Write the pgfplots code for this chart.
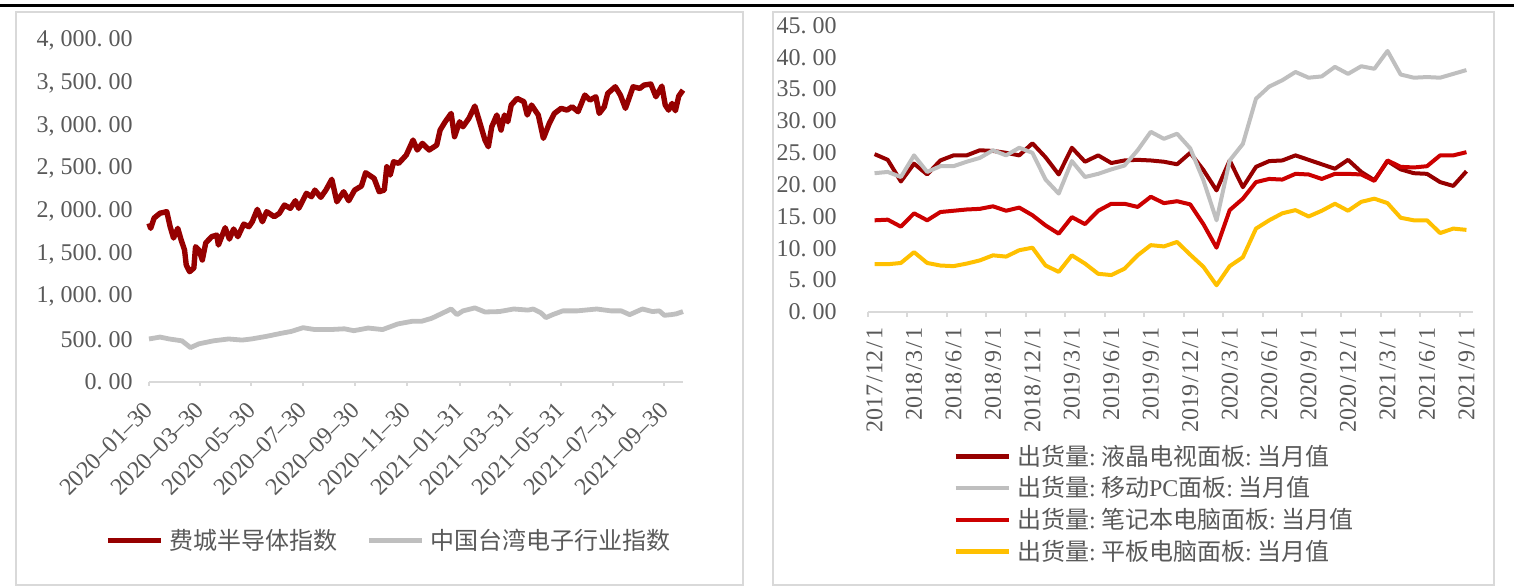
\documentclass[border=0pt]{standalone}
\usepackage{pgfplots}
\usepackage{pgfplotstable}
\pgfplotsset{compat=1.18}
\usepackage{fontspec}
\setmainfont{Liberation Serif}
\newfontfamily\cjk{Noto Sans CJK SC}
\definecolor{sox}{RGB}{150,0,0}
\definecolor{twn}{RGB}{191,191,191}
\definecolor{lcd}{RGB}{150,0,0}
\definecolor{npc}{RGB}{204,0,0}
\definecolor{tabc}{RGB}{255,192,0}
\definecolor{txt}{RGB}{89,89,89}
\definecolor{axl}{RGB}{217,217,217}
\newcommand\pd{\makebox[0.5em][l]{.}}
\newcommand\pc{\makebox[0.5em][l]{,}}
\newcommand\cl{\makebox[0.5em][l]{\rmfamily :}}
\newcommand\sla{\makebox[0.45em]{/}}

\pgfplotstableread{
d v
0 1858
2 1800
6 1920
13 1977
21 1995
25 1819
29 1686
34 1800
38 1663
42 1546
44 1370
48 1292
53 1335
55 1585
59 1546
63 1429
67 1628
74 1702
80 1721
82 1604
90 1807
95 1674
100 1792
105 1702
112 1850
118 1819
122 1877
128 2022
134 1877
139 1995
148 1936
154 1975
160 2073
167 2034
173 2123
177 2034
186 2210
192 2170
196 2248
203 2163
209 2248
216 2374
222 2111
230 2229
236 2123
243 2248
251 2295
256 2451
266 2385
272 2229
278 2248
281 2521
285 2424
289 2580
295 2561
304 2658
312 2834
317 2717
323 2795
331 2717
340 2775
344 2951
350 3048
357 3146
361 2873
367 3048
371 2990
378 3088
385 3232
390 3068
397 2834
401 2755
405 2990
411 3127
416 2951
420 3127
424 3048
428 3244
435 3322
443 3283
447 3127
452 3244
460 3127
466 2854
473 3029
479 3146
487 3205
494 3185
500 3224
507 3166
515 3361
521 3302
528 3341
532 3146
538 3224
542 3380
551 3458
557 3361
563 3205
572 3458
580 3439
585 3478
593 3490
599 3341
606 3466
610 3244
614 3185
618 3263
622 3177
626 3349
631 3419
}\soxdata

\pgfplotstableread{
d v
0 504
13 526
24 504
39 482
49 403
59 447
76 482
94 504
110 491
121 504
139 535
156 570
168 592
182 636
196 614
214 614
231 623
242 601
259 632
276 614
294 680
311 711
322 711
334 746
345 798
357 855
364 789
371 833
385 868
397 820
414 825
431 855
448 842
454 855
463 811
469 754
477 789
489 833
506 833
529 855
546 833
558 833
568 789
583 855
595 825
603 833
609 781
617 789
623 798
631 825
}\twndata

\pgfplotstableread{
i lcd pc nb tb
0 24.8 21.8 14.4 7.5
1 23.9 22.0 14.5 7.5
2 20.5 21.2 13.4 7.7
3 23.3 24.6 15.5 9.4
4 21.6 22.0 14.4 7.7
5 23.8 22.9 15.7 7.3
6 24.6 22.9 15.9 7.2
7 24.6 23.6 16.1 7.6
8 25.4 24.2 16.2 8.1
9 25.3 25.4 16.6 8.9
10 25.0 24.6 15.9 8.7
11 24.6 25.8 16.4 9.7
12 26.5 25.0 15.2 10.1
13 24.3 20.8 13.6 7.3
14 21.6 18.6 12.3 6.3
15 25.8 23.7 14.9 8.9
16 23.6 21.2 13.8 7.6
17 24.6 21.7 15.9 6.0
18 23.4 22.4 17.0 5.8
19 23.8 23.0 17.0 6.8
20 23.9 25.4 16.5 8.9
21 23.8 28.3 18.1 10.5
22 23.6 27.2 17.1 10.3
23 23.2 28.0 17.4 11.0
24 25.0 25.7 16.9 9.0
25 22.3 20.7 13.8 7.1
26 19.1 14.4 10.1 4.2
27 23.8 23.8 16.0 7.2
28 19.6 26.4 17.8 8.6
29 22.8 33.5 20.4 13.1
30 23.7 35.4 20.9 14.4
31 23.8 36.4 20.8 15.5
32 24.6 37.7 21.7 16.0
33 23.9 36.8 21.6 15.0
34 23.2 37.0 20.9 15.9
35 22.5 38.5 21.7 17.0
36 23.9 37.4 21.7 15.9
37 22.0 38.6 21.6 17.3
38 20.7 38.2 20.6 17.8
39 23.7 41.0 23.8 17.1
40 22.4 37.3 22.8 14.8
41 21.8 36.8 22.7 14.4
42 21.7 36.9 22.9 14.4
43 20.4 36.8 24.6 12.4
44 19.8 37.4 24.6 13.1
45 22.1 38.0 25.1 12.9
}\paneldata

\begin{document}
\begin{tikzpicture}
\path[use as bounding box] (0,0) rectangle (757pt,293.5pt);
\draw[black, line width=1.65pt] (0,290.65pt) -- (757pt,290.65pt);
\draw[axl, line width=1pt] (8pt,1pt) rectangle (371.5pt,287.5pt);
\draw[axl, line width=1pt] (386.5pt,1pt) rectangle (747pt,287.5pt);

\begin{axis}[
  at={(74.5pt,102.5pt)}, anchor=south west,
  scale only axis, width=267pt, height=170.75pt,
  xmin=0, xmax=631, ymin=0, ymax=4000,
  axis x line*=bottom, axis y line*=left,
  x axis line style={axl, line width=1pt, -},
  y axis line style={draw=none},
  xtick={0,60,121,182,244,305,367,426,487,548,609},
  xticklabels={2020--01--30,2020--03--30,2020--05--30,2020--07--30,2020--09--30,2020--11--30,2021--01--31,2021--03--31,2021--05--31,2021--07--31,2021--09--30},
  ytick={0,500,...,4000},
  yticklabels={0\pd00,500\pd00,1\pc000\pd00,1\pc500\pd00,2\pc000\pd00,2\pc500\pd00,3\pc000\pd00,3\pc500\pd00,4\pc000\pd00},
  tick align=outside, major tick length=2pt,
  xtick style={axl, line width=1pt},
  ytick style={draw=none},
  tick label style={font=\fontsize{12}{14}\selectfont, text=txt},
  xticklabel style={xshift=-3pt, yshift=-7pt, rotate=45, anchor=north east, inner sep=0pt},
  yticklabel style={anchor=east, inner sep=0pt, xshift=-6pt},
  clip=false,
  legend style={at={(0,0)}, anchor=west, xshift=-22pt, yshift=-79.5pt,
    draw=none, fill=none, inner sep=0pt, legend columns=2,
    font=\cjk\fontsize{12}{14}\selectfont, text=txt,
    nodes={inner xsep=3pt, inner ysep=0pt},
    /tikz/every even column/.append style={column sep=11.5pt}},
  legend image code/.code={\draw[line width=2.5pt] (0pt,0pt) -- (26.5pt,0pt);},
]
\addplot[sox, line width=2.7pt, line join=round] table[x=d,y=v]{\soxdata};
\addlegendentry{费城半导体指数}
\addplot[twn, line width=2.4pt, line join=round] table[x=d,y=v]{\twndata};
\addlegendentry{中国台湾电子行业指数}
\end{axis}

\begin{axis}[
  at={(434pt,137.5pt)}, anchor=south west,
  scale only axis, width=302.5pt, height=143.25pt,
  xmin=-0.5, xmax=45.5, ymin=0, ymax=45,
  axis x line*=bottom, axis y line*=left,
  x axis line style={axl, line width=1pt, -},
  y axis line style={draw=none},
  xtick={0,3,...,45},
  xticklabels={2017\sla12\sla1,2018\sla3\sla1,2018\sla6\sla1,2018\sla9\sla1,2018\sla12\sla1,2019\sla3\sla1,2019\sla6\sla1,2019\sla9\sla1,2019\sla12\sla1,2020\sla3\sla1,2020\sla6\sla1,2020\sla9\sla1,2020\sla12\sla1,2021\sla3\sla1,2021\sla6\sla1,2021\sla9\sla1},
  extra x ticks={-0.5,2.5,...,44.5},
  extra x tick labels={},
  extra x tick style={major tick length=2.5pt, tick style={axl, line width=1pt}},
  ytick={0,5,...,45},
  yticklabels={0\pd00,5\pd00,10\pd00,15\pd00,20\pd00,25\pd00,30\pd00,35\pd00,40\pd00,45\pd00},
  tick align=outside, major tick length=0pt,
  xtick style={axl, line width=1pt},
  ytick style={draw=none},
  tick label style={font=\fontsize{12}{14}\selectfont, text=txt},
  xticklabel style={yshift=-7.5pt, rotate=90, anchor=east, inner sep=0pt},
  yticklabel style={anchor=east, inner sep=0pt, xshift=-15.5pt},
  clip=false,
  legend style={at={(0,0)}, anchor=west, xshift=42.5pt, yshift=-96pt,
    draw=none, fill=none, inner sep=0pt, legend columns=1,
    font=\cjk\fontsize{12}{14}\selectfont, text=txt,
    nodes={inner xsep=3pt, inner ysep=0pt}, row sep=4.2pt,
    legend cell align=left},
  legend image code/.code={\draw[line width=2.3pt] (0pt,0pt) -- (26.5pt,0pt);},
]
\addplot[lcd, line width=2pt, line join=round] table[x=i,y=lcd]{\paneldata};
\addlegendentry{出货量\cl 液晶电视面板\cl 当月值}
\addplot[twn, line width=2pt, line join=round] table[x=i,y=pc]{\paneldata};
\addlegendentry{出货量\cl 移动{\rmfamily PC}面板\cl 当月值}
\addplot[npc, line width=2pt, line join=round] table[x=i,y=nb]{\paneldata};
\addlegendentry{出货量\cl 笔记本电脑面板\cl 当月值}
\addplot[tabc, line width=2pt, line join=round] table[x=i,y=tb]{\paneldata};
\addlegendentry{出货量\cl 平板电脑面板\cl 当月值}
\end{axis}
\end{tikzpicture}
\end{document}
